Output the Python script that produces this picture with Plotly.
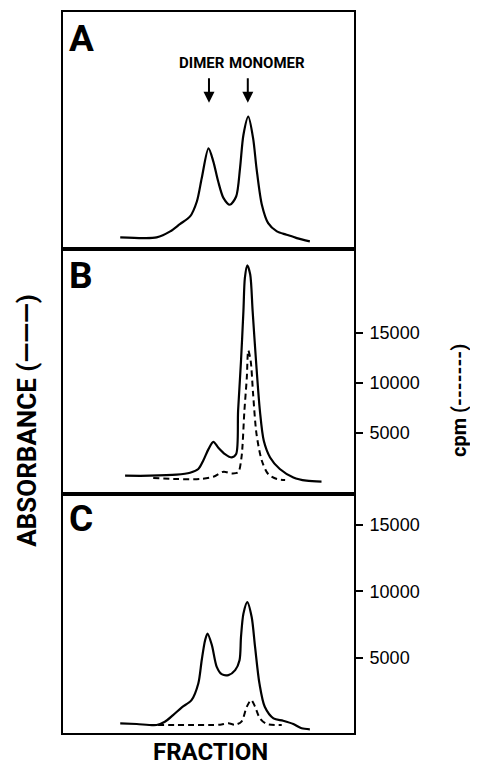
import plotly.graph_objects as go

# ---------------- data ----------------
# Panel A: absorbance (arbitrary units)
a_frac = [11.8, 16.6, 19.3, 22.1, 24.1, 26.2, 27.6, 28.6, 30.0, 31.0, 32.0, 33.1, 34.4,
          35.7, 36.5, 37.2, 38.2, 39.2, 39.9, 41.0, 42.3, 44.1, 46.1, 48.2, 50.9]
a_abs = [0.12, 0.113, 0.12, 0.18, 0.253, 0.33, 0.48, 0.713, 1.013, 0.88, 0.68, 0.513, 0.447,
         0.53, 0.813, 1.147, 1.33, 1.113, 0.813, 0.447, 0.263, 0.18, 0.147, 0.113, 0.08]

# Panel B: absorbance + cpm
b_frac = [12.8, 17.9, 23.4, 26.2, 27.9, 28.9, 30.0, 31.0, 32.0, 33.4, 34.8, 35.7, 36.1, 36.7,
          37.2, 37.5, 38.0, 38.6, 39.1, 39.8, 40.6, 41.4, 42.7, 44.7, 47.5, 50.2, 53.3]
b_abs = [0.18, 0.18, 0.19, 0.21, 0.247, 0.33, 0.447, 0.52, 0.463, 0.397, 0.363, 0.397, 0.83, 1.33,
         1.83, 2.163, 2.29, 2.197, 1.83, 1.33, 0.83, 0.53, 0.363, 0.247, 0.163, 0.13, 0.12]
b_cpm_frac = [18.6, 23.4, 28.2, 31.0, 33.1, 34.8, 36.1, 36.8, 37.4, 37.9, 38.2, 38.7, 39.2,
              39.9, 41.0, 42.3, 44.1, 45.8]
b_cpm = [470, 370, 370, 600, 1100, 930, 1030, 2530, 7200, 10530, 13270, 12200, 8870,
         4870, 2200, 870, 370, 270]

# Panel C: absorbance + cpm
c_frac = [11.8, 15.2, 19.3, 21.0, 22.7, 24.5, 26.5, 27.9, 28.6, 29.3, 29.8, 30.7, 31.7, 32.7,
          34.1, 35.5, 36.4, 36.7, 37.2, 38.0, 38.9, 39.6, 40.5, 41.6, 43.4, 45.4, 47.5, 49.2, 50.9]
c_abs = [0.097, 0.09, 0.08, 0.113, 0.18, 0.257, 0.33, 0.497, 0.73, 0.93, 0.997, 0.88, 0.663, 0.59,
         0.58, 0.63, 0.73, 0.963, 1.197, 1.313, 1.163, 0.863, 0.497, 0.263, 0.147, 0.123, 0.09,
         0.047, 0.037]
c_cpm_frac = [19.6, 23.4, 26.9, 30.3, 32.4, 34.1, 35.5, 36.8, 37.9, 38.8, 39.6, 40.6, 42.0, 45.1]
c_cpm = [0, 0, 0, 0, 20, 125, 20, 250, 1370, 1870, 1370, 500, 75, 0]

cpm_ticks = [5000, 10000, 15000]
cpm_ticktext = ["5000", "10000", "15000"]
panel_letters = ["A", "B", "C"]
peak_labels = ["DIMER", "MONOMER"]
peak_frac = [30.1, 38.1]

# ---------------- figure ----------------
# The page body has an 8px margin, so the figure is 8px smaller than the window.
BOLD = "Roboto, Liberation Sans, Arial, sans-serif"
REG = "Liberation Sans, Arial, sans-serif"

solid = dict(color="black", width=2.2, shape="spline", smoothing=0.8)
dashed = dict(color="black", width=2, dash="6px,4px", shape="spline", smoothing=0.8)

fig = go.Figure()
fig.add_trace(go.Scatter(x=a_frac, y=a_abs, mode="lines", line=solid, xaxis="x", yaxis="y"))
fig.add_trace(go.Scatter(x=b_frac, y=b_abs, mode="lines", line=solid, xaxis="x2", yaxis="y2"))
fig.add_trace(go.Scatter(x=b_cpm_frac, y=b_cpm, mode="lines", line=dashed, xaxis="x2", yaxis="y4"))
fig.add_trace(go.Scatter(x=c_frac, y=c_abs, mode="lines", line=solid, xaxis="x3", yaxis="y3"))
fig.add_trace(go.Scatter(x=c_cpm_frac, y=c_cpm, mode="lines", line=dashed, xaxis="x3", yaxis="y5"))

H = 723.0
W = 291.0
dA = [(733 - 248) / H, 1.0]
dB = [(733 - 493) / H, (733 - 248) / H]
dC = [0.0, (733 - 493) / H]


def px(xp):
    return (xp - 63) / W


def py(yp):
    return (733 - yp) / H


frame = dict(showline=True, linecolor="black", linewidth=2.2, mirror=True,
             showgrid=False, zeroline=False, showticklabels=False, ticks="")
xr = [0, 60]

cpm_axis = dict(side="right", showline=False, showgrid=False, zeroline=False,
                ticks="outside", ticklen=8, tickwidth=2, tickcolor="black",
                ticklabelstandoff=3,
                tickvals=cpm_ticks, ticktext=cpm_ticktext,
                tickfont=dict(family=REG, size=18, color="black"))

fig.update_layout(
    width=470, height=758,
    margin=dict(l=55, r=124, t=2, b=33),
    paper_bgcolor="white", plot_bgcolor="white",
    showlegend=False,
    xaxis=dict(domain=[0, 1], range=xr, anchor="y", **frame),
    xaxis2=dict(domain=[0, 1], range=xr, anchor="y2", **frame),
    xaxis3=dict(domain=[0, 1], range=xr, anchor="y3", **frame),
    yaxis=dict(domain=dA, range=[0, 2.38], anchor="x", **frame),
    yaxis2=dict(domain=dB, range=[0, 2.45], anchor="x2", **frame),
    yaxis3=dict(domain=dC, range=[0, 2.40], anchor="x3", **frame),
    yaxis4=dict(overlaying="y2", anchor="x2", range=[-1100, 23400], **cpm_axis),
    yaxis5=dict(overlaying="y3", anchor="x3", range=[-600, 17315], **cpm_axis),
)

ann = []
letter_y = [py(36.5), py(274.5), py(517.5)]
for lab, yy in zip(panel_letters, letter_y):
    ann.append(dict(text="<b>" + lab + "</b>", xref="paper", yref="paper", x=px(67), y=yy,
                    xanchor="left", yanchor="middle", showarrow=False,
                    font=dict(family=BOLD, size=37, color="black")))

label_x = [px(202), px(267)]
for lab, lx in zip(peak_labels, label_x):
    ann.append(dict(text="<b>" + lab + "</b>", xref="paper", yref="paper", x=lx, y=py(61),
                    xanchor="center", yanchor="middle", showarrow=False,
                    font=dict(family=BOLD, size=15, color="black")))
for pf in peak_frac:
    ann.append(dict(text="", x=pf, y=(248 - 101) / 100, xref="x", yref="y",
                    showarrow=True, arrowhead=2, arrowsize=1.1, arrowwidth=2,
                    arrowcolor="black", ax=0, ay=-26))

ann.append(dict(text="<b>ABSORBANCE (———)</b>", xref="paper", yref="paper",
                x=px(27), y=py(420), textangle=-90,
                xanchor="center", yanchor="middle", showarrow=False,
                font=dict(family=BOLD, size=26, color="black")))
ann.append(dict(text="<b>cpm (-------)</b>", xref="paper", yref="paper",
                x=px(459), y=py(400), textangle=-90,
                xanchor="center", yanchor="middle", showarrow=False,
                font=dict(family=BOLD, size=20, color="black")))
ann.append(dict(text="<b>FRACTION</b>", xref="paper", yref="paper",
                x=px(210), y=py(768),
                xanchor="center", yanchor="bottom", showarrow=False,
                font=dict(family=BOLD, size=24, color="black")))

fig.update_layout(annotations=ann)
fig.write_html("out.html")
